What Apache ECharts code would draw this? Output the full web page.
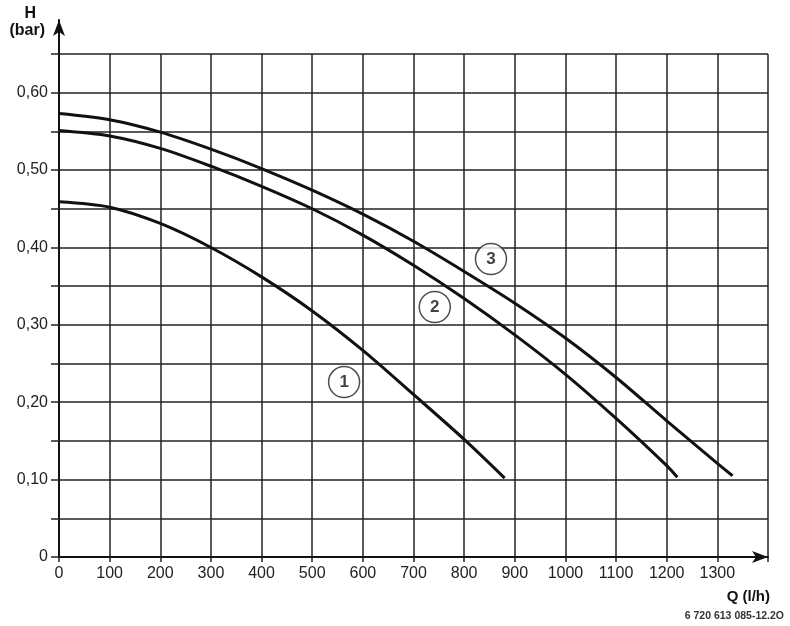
<!DOCTYPE html>
<html>
<head>
<meta charset="utf-8">
<script src="https://cdn.jsdelivr.net/npm/echarts@6/dist/echarts.min.js"></script>
<style>
  html, body { margin: 0; padding: 0; background: #ffffff; }
  #chart { width: 790px; height: 626px; }
</style>
</head>
<body>
<div id="chart"></div>
<script>
// pump curves: Q in l/h, H in bar
const curve1 = [[0, 0.459], [100, 0.452], [200, 0.431], [300, 0.400], [400, 0.362],
    [500, 0.318], [600, 0.267], [700, 0.210], [800, 0.152], [880, 0.102]];
const curve2 = [[0, 0.551], [100, 0.544], [200, 0.528], [300, 0.505], [400, 0.479],
    [500, 0.450], [600, 0.416], [700, 0.377], [800, 0.334], [900, 0.287],
    [1000, 0.236], [1100, 0.179], [1200, 0.118], [1221, 0.103]];
const curve3 = [[0, 0.573], [100, 0.565], [200, 0.549], [300, 0.527], [400, 0.502],
    [500, 0.474], [600, 0.443], [700, 0.408], [800, 0.369], [900, 0.328],
    [1000, 0.283], [1100, 0.232], [1200, 0.176], [1300, 0.121], [1330, 0.105]];

// circled curve numbers, placed in data coordinates
const curveTags = [
    { name: '1', value: [563, 0.226] },
    { name: '2', value: [742, 0.323] },
    { name: '3', value: [853, 0.385] },
];

const FONT = '"Liberation Sans", Arial, sans-serif';
const INK = '#222';

const chart = echarts.init(document.getElementById('chart'), null, { renderer: 'canvas' });

const yLabel = v => {
    const k = Math.round(v * 100);
    if (k % 10 !== 0) return '';
    if (k === 0) return '0';
    return (k / 100).toFixed(2).replace('.', ',');
};

const curveSeries = data => ({
    type: 'line',
    data: data,
    smooth: 0.3,
    showSymbol: false,
    silent: true,
    lineStyle: { color: '#111', width: 3 },
});

chart.setOption({
    backgroundColor: '#ffffff',
    animation: false,
    grid: [
        { left: 59, right: 22, top: 54, bottom: 69 },
        // only carries the two arrow axes, which run past the grid
        { left: 59, right: 22, top: 20, bottom: 69 },
    ],
    xAxis: [
        {
            type: 'value',
            min: 0,
            max: 1400,
            interval: 100,
            axisLine: { show: false },
            axisTick: { show: true, length: 5, lineStyle: { color: INK, width: 1.5 } },
            axisLabel: {
                margin: 9,
                color: INK,
                fontFamily: FONT,
                fontSize: 16,
                formatter: v => (v >= 1400 ? '' : String(v)),
            },
            splitLine: { show: true, lineStyle: { color: INK, width: 1.5 } },
        },
        {
            gridIndex: 1,
            type: 'value',
            min: 0,
            max: 1400,
            axisLine: {
                show: true,
                symbol: ['none', 'arrow'],
                symbolSize: [9, 16],
                lineStyle: { color: '#111', width: 2 },
            },
            axisTick: { show: false },
            axisLabel: { show: false },
            splitLine: { show: false },
        },
    ],
    yAxis: [
        {
            type: 'value',
            min: 0,
            max: 0.65,
            interval: 0.05,
            axisLine: { show: false },
            axisTick: { show: true, length: 8, lineStyle: { color: INK, width: 1.5 } },
            axisLabel: {
                margin: 11,
                color: INK,
                fontFamily: FONT,
                fontSize: 16,
                formatter: yLabel,
            },
            splitLine: { show: true, lineStyle: { color: INK, width: 1.5 } },
        },
        {
            gridIndex: 1,
            type: 'value',
            min: 0,
            max: 1,
            axisLine: {
                show: true,
                symbol: ['none', 'arrow'],
                symbolSize: [9, 16],
                lineStyle: { color: '#111', width: 2 },
            },
            axisTick: { show: false },
            axisLabel: { show: false },
            splitLine: { show: false },
        },
    ],
    series: [
        curveSeries(curve1),
        curveSeries(curve2),
        curveSeries(curve3),
        {
            type: 'scatter',
            data: curveTags,
            symbol: 'circle',
            symbolSize: 31,
            silent: true,
            z: 5,
            itemStyle: { color: '#ffffff', borderColor: '#222', borderWidth: 1.5 },
            label: {
                show: true,
                position: 'inside',
                formatter: p => p.name,
                color: '#111',
                fontFamily: FONT,
                fontSize: 17,
                fontWeight: 'bold',
            },
        },
    ],
    graphic: [
        {
            type: 'text', right: 754, top: 6,
            style: { text: 'H', font: 'bold 16px ' + FONT, fill: '#111' },
        },
        {
            type: 'text', right: 745, top: 23,
            style: { text: '(bar)', font: 'bold 16px ' + FONT, fill: '#111' },
        },
        {
            type: 'text', right: 20, top: 589,
            style: { text: 'Q (l/h)', font: 'bold 15px ' + FONT, fill: '#111' },
        },
        {
            type: 'text', right: 6, top: 611,
            style: { text: '6 720 613 085-12.2O', font: 'bold 10.5px ' + FONT, fill: '#333' },
        },
    ],
});
</script>
</body>
</html>
